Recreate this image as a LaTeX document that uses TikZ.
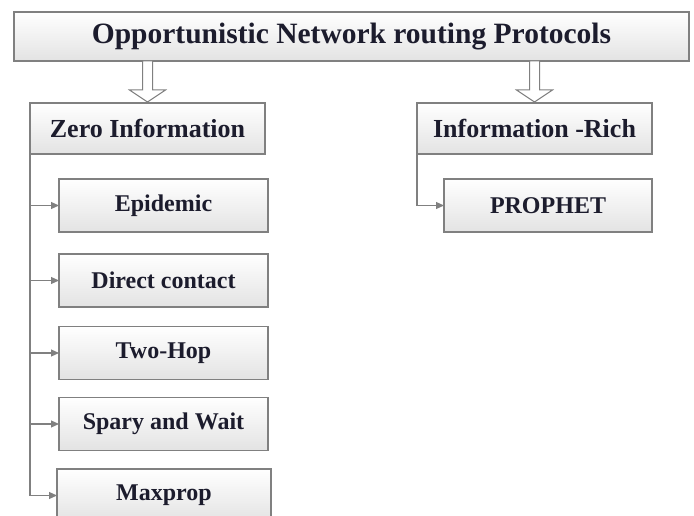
\documentclass[tikz,border=0pt]{standalone}
\usepackage{fontspec}
\setmainfont{Liberation Serif}
\usetikzlibrary{arrows.meta}
\definecolor{boxline}{RGB}{128,128,128}
\definecolor{boxtext}{RGB}{28,28,45}

\begin{document}
\begin{tikzpicture}[x=1pt,y=-1pt,line width=1.2pt,
  >={Triangle[length=8pt,width=7pt]},
  box node/.style={rectangle,draw=boxline,top color=white,bottom color=gray!22,
    inner sep=0pt,outer sep=0pt,text=boxtext,minimum width=209,minimum height=53,
    font=\bfseries\fontsize{24}{28}\selectfont},
  head node/.style={box node,minimum width=235,minimum height=51,
    font=\bfseries\fontsize{26}{30}\selectfont},
  big arrow/.style={draw=boxline,fill=white,line width=1pt}]

  \clip (0,0) rectangle (694,516);

  \node[head node,minimum width=675,minimum height=49,
    font=\bfseries\fontsize{29.5}{34}\selectfont] (title) at (351.5,36.5)
    {Opportunistic Network routing Protocols};

  \node[head node] (zero) at (147.5,128.5) {Zero Information};
  \node[head node] (rich) at (534.5,128.5) {Information -Rich};

  \node[box node] (epidemic) at (163.5,205.5) {Epidemic};
  \node[box node] (direct) at (163.5,280.5) {Direct contact};
  \node[box node] (twohop) at (163.5,353) {Two-Hop};
  \node[box node] (spary) at (163.5,424) {Spary and Wait};
  \node[box node,minimum width=214] (maxprop) at (164,495.5) {Maxprop};
  \node[box node,minimum width=208] (prophet) at (548,205.5) {PROPHET};

  \foreach \t in {zero,rich}
    \draw[big arrow] (\t.north |- title.south) ++(-5,0) -- ++(0,29) -- ++(-13,0)
      -- ++(18,12) -- ++(18,-12) -- ++(-13,0) -- ++(0,-29) -- cycle;

  \begin{scope}[draw=boxline,color=boxline]
    \draw[->] (zero.south west) |- (maxprop.west);
    \foreach \n in {epidemic,direct,twohop,spary}
      \draw[->] (zero.south west |- \n.west) -- (\n.west);
    \draw[->] (rich.south west) |- (prophet.west);
  \end{scope}
\end{tikzpicture}
\end{document}
